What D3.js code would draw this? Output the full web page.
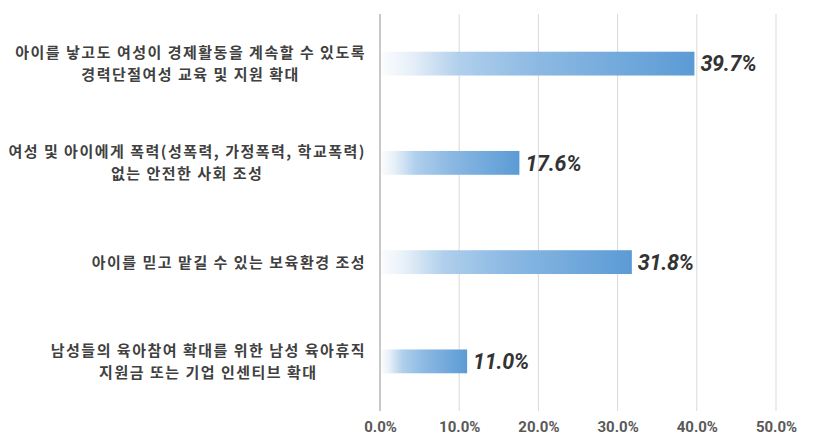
<!DOCTYPE html>
<html>
<head>
<meta charset="utf-8">
<script src="https://cdn.jsdelivr.net/npm/d3@7"></script>
<style>
  body { margin: 0; background: #fff; }
  svg { display: block; }
</style>
</head>
<body>
<svg id="chart"></svg>
<script>
// categories (each label split into lines)
const categories = [
  ['아이를 낳고도 여성이 경제활동을 계속할 수 있도록', '경력단절여성 교육 및 지원 확대'],
  ['여성 및 아이에게 폭력(성폭력, 가정폭력, 학교폭력)', '없는 안전한 사회 조성'],
  ['아이를 믿고 맡길 수 있는 보육환경 조성'],
  ['남성들의 육아참여 확대를 위한 남성 육아휴직', '지원금 또는 기업 인센티브 확대']
];
const values = [39.7, 17.6, 31.8, 11.0];
const ticks = [0, 10, 20, 30, 40, 50];

const width = 813;
const height = 444;
const margin = { top: 14, right: 37, bottom: 33, left: 380 };

const svg = d3.select('#chart')
  .attr('width', width)
  .attr('height', height);

const x = d3.scaleLinear()
  .domain([0, 50])
  .range([margin.left, width - margin.right]);

const y = d3.scaleBand()
  .domain(d3.range(categories.length))
  .range([margin.top, height - margin.bottom])
  .paddingInner(0.76)
  .paddingOuter(0.38);

// gradient for bars
const grad = svg.append('defs').append('linearGradient')
  .attr('id', 'barGrad')
  .attr('x1', '0%').attr('x2', '100%')
  .attr('y1', '0%').attr('y2', '0%');
[
  [0, '#fbfdfe'],
  [0.1, '#e6eff8'],
  [0.25, '#b0cfec'],
  [0.5, '#8cb9e3'],
  [1, '#5b9bd5']
].forEach(function(s) {
  grad.append('stop').attr('offset', s[0]).attr('stop-color', s[1]);
});

// grid lines
svg.append('g')
  .selectAll('line')
  .data(ticks)
  .enter()
  .append('line')
  .attr('x1', d => x(d))
  .attr('x2', d => x(d))
  .attr('y1', margin.top)
  .attr('y2', height - margin.bottom)
  .attr('stroke', d => d === 0 ? '#c8c8c8' : '#d9d9d9')
  .attr('stroke-width', d => d === 0 ? 2 : 1);

// x axis labels
const xAxis = d3.axisBottom(x)
  .tickValues(ticks)
  .tickSize(0)
  .tickPadding(10)
  .tickFormat(d => d3.format('.1f')(d) + '%');

const xAxisGroup = svg.append('g')
  .attr('transform', 'translate(0,' + (height - margin.bottom) + ')')
  .call(xAxis);
xAxisGroup.select('.domain').remove();
xAxisGroup.selectAll('text')
  .attr('fill', '#595959')
  .style('font-family', 'Roboto, "Noto Sans", sans-serif')
  .style('font-weight', 'bold')
  .style('font-size', '15px');

// bars
svg.append('g')
  .selectAll('rect')
  .data(values)
  .enter()
  .append('rect')
  .attr('x', x(0) + 1)
  .attr('y', (d, i) => y(i))
  .attr('width', d => x(d) - x(0) - 1)
  .attr('height', y.bandwidth())
  .attr('fill', 'url(#barGrad)');

// value labels
svg.append('g')
  .selectAll('text')
  .data(values)
  .enter()
  .append('text')
  .attr('x', d => x(d) + 6)
  .attr('y', (d, i) => y(i) + y.bandwidth() / 2)
  .attr('dy', '0.36em')
  .attr('fill', '#333333')
  .style('font-family', 'Roboto, "Noto Sans", sans-serif')
  .style('font-weight', 'bold')
  .style('font-style', 'italic')
  .style('font-size', '21.5px')
  .style('letter-spacing', '-0.3px')
  .text(d => d3.format('.1f')(d) + '%');

// category labels: block right aligned, lines centered in block
const labelRight = 366;
const lineHeight = 22;
const labelGroup = svg.append('g');
categories.forEach(function(lines, i) {
  const cy = y(i) + y.bandwidth() / 2;
  const g = labelGroup.append('g');
  const texts = lines.map(function(line, j) {
    return g.append('text')
      .attr('y', cy + (j - (lines.length - 1) / 2) * lineHeight)
      .attr('dy', '0.36em')
      .attr('text-anchor', 'middle')
      .attr('fill', '#404040')
      .style('font-family', '"Noto Sans CJK KR", sans-serif')
      .style('font-weight', 'bold')
      .style('font-size', '15px')
      .style('letter-spacing', '1.5px')
      .text(line);
  });
  const maxW = d3.max(texts, t => t.node().getComputedTextLength());
  texts.forEach(t => t.attr('x', labelRight - maxW / 2));
});
</script>
</body>
</html>
